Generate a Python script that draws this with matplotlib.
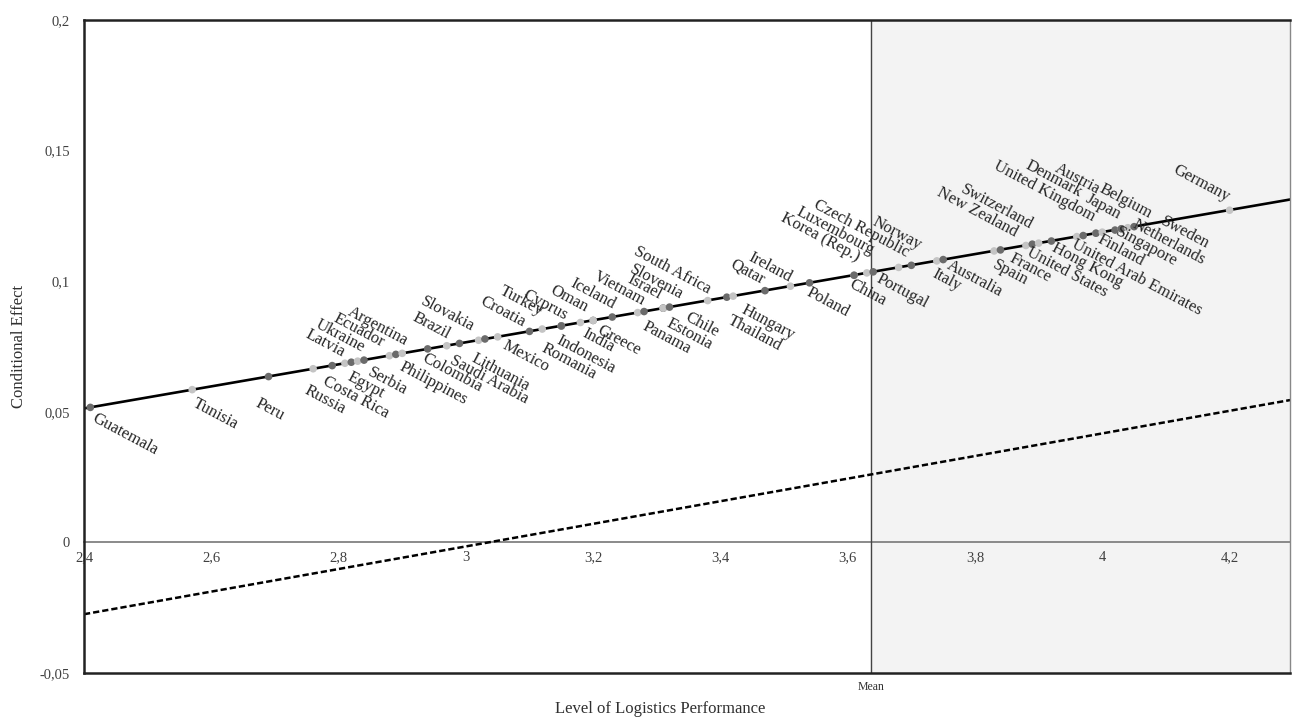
import numpy as np
import matplotlib
matplotlib.use('Agg')
import matplotlib.pyplot as plt

plt.rcParams['font.family'] = ['Liberation Serif', 'DejaVu Serif']

# Countries whose label sits under the line
below_names = ['Guatemala', 'Tunisia', 'Peru', 'Russia', 'Costa Rica', 'Egypt', 'Serbia',
               'Philippines', 'Colombia', 'Saudi Arabia', 'Lithuania', 'Mexico', 'Romania',
               'Indonesia', 'India', 'Greece', 'Panama', 'Estonia', 'Chile', 'Thailand',
               'Hungary', 'Poland', 'China', 'Portugal', 'Italy', 'Australia', 'Spain',
               'France', 'United States', 'Hong Kong', 'United Arab Emirates', 'Finland',
               'Singapore', 'Netherlands', 'Sweden']
below_lpi = [2.41, 2.57, 2.69, 2.76, 2.79, 2.82, 2.84, 2.90, 2.94, 2.97, 3.02, 3.05, 3.12,
             3.15, 3.18, 3.20, 3.28, 3.31, 3.32, 3.41, 3.42, 3.54, 3.61, 3.64, 3.74, 3.75,
             3.83, 3.84, 3.89, 3.92, 3.96, 3.97, 4.00, 4.02, 4.05]
below_eff = [0.0517, 0.0585, 0.0635, 0.0665, 0.0677, 0.0690, 0.0698, 0.0724, 0.0741, 0.0753,
             0.0774, 0.0787, 0.0817, 0.0829, 0.0842, 0.0850, 0.0884, 0.0897, 0.0901, 0.0939,
             0.0943, 0.0994, 0.1023, 0.1036, 0.1078, 0.1083, 0.1116, 0.1120, 0.1142, 0.1154,
             0.1171, 0.1175, 0.1188, 0.1196, 0.1209]

# Countries whose label sits above the line
above_names = ['Latvia', 'Ukraine', 'Ecuador', 'Argentina', 'Brazil', 'Slovakia', 'Croatia',
               'Turkey', 'Cyprus', 'Oman', 'Iceland', 'Vietnam', 'Israel', 'Slovenia',
               'South Africa', 'Qatar', 'Ireland', 'Korea (Rep.)', 'Luxembourg',
               'Czech Republic', 'Norway', 'New Zealand', 'Switzerland', 'United Kingdom',
               'Denmark', 'Japan', 'Austria', 'Belgium', 'Germany']
above_lpi = [2.81, 2.83, 2.88, 2.89, 2.99, 3.03, 3.10, 3.15, 3.15, 3.20, 3.23, 3.27, 3.31,
             3.31, 3.38, 3.47, 3.51, 3.61, 3.63, 3.68, 3.70, 3.88, 3.90, 3.99, 3.99, 4.03,
             4.03, 4.04, 4.20]
above_eff = [0.0686, 0.0694, 0.0715, 0.0720, 0.0762, 0.0779, 0.0808, 0.0829, 0.0829, 0.0850,
             0.0863, 0.0880, 0.0897, 0.0897, 0.0926, 0.0964, 0.0981, 0.1023, 0.1032, 0.1053,
             0.1061, 0.1137, 0.1146, 0.1184, 0.1184, 0.1201, 0.1201, 0.1205, 0.1272]

# Effect line and its lower bound (dashed), read at the two plot edges
line_x = [2.4, 4.295]
effect_y = [0.0513, 0.1313]
lower_y = [-0.0275, 0.0545]

mean_lpi = 3.637
x_ticks = [2.4, 2.6, 2.8, 3.0, 3.2, 3.4, 3.6, 3.8, 4.0, 4.2]
y_ticks = [-0.05, 0, 0.05, 0.1, 0.15, 0.2]

# hand placement of labels (pixels, y downwards)
below_off = {'Guatemala': (7, 3), 'Tunisia': (5, 6), 'Peru': (-8, 19), 'Russia': (-4, 14),
             'Costa Rica': (-5, 8), 'Egypt': (1, 7), 'Serbia': (8, 4), 'Philippines': (2, 6),
             'Colombia': (-1, 2), 'Saudi Arabia': (8, 7), 'Lithuania': (-2, 10), 'Mexico': (9, 1),
             'Romania': (4, 11), 'Indonesia': (0, 6), 'India': (7, 3), 'Greece': (9, 2),
             'Panama': (3, 7), 'Estonia': (8, 7), 'Chile': (20, 2), 'Thailand': (6, 15),
             'Hungary': (13, 6), 'Poland': (2, 2), 'China': (0, 1), 'Portugal': (8, -1),
             'Italy': (0, 5), 'Australia': (8, -2), 'Spain': (3, 6), 'France': (14, 0),
             'United States': (-1, 0), 'Hong Kong': (5, -1), 'United Arab Emirates': (0, 0),
             'Finland': (19, -4), 'Singapore': (18, -8), 'Netherlands': (22, -14),
             'Sweden': (31, -13)}
above_off = {'Latvia': (-5, -3), 'Ukraine': (2, -6), 'Ecuador': (-10, -5), 'Argentina': (7, -5),
             'Brazil': (-14, -1), 'Slovakia': (-15, -4), 'Croatia': (-9, -1), 'Turkey': (-23, -7),
             'Cyprus': (2, -2), 'Oman': (-10, -5), 'Iceland': (-2, -5), 'Vietnam': (3, -4),
             'Israel': (-6, -5), 'Slovenia': (15, -5), 'South Africa': (-2, -3), 'Qatar': (-5, -3),
             'Ireland': (-3, -1), 'Korea (Rep.)': (1, -10), 'Luxembourg': (3, -15),
             'Czech Republic': (6, -7), 'Norway': (5, -12), 'New Zealand': (-13, -5),
             'Switzerland': (-11, -10), 'United Kingdom': (-6, -8), 'Denmark': (-19, -33),
             'Japan': (-5, -6), 'Austria': (-26, -31), 'Belgium': (19, -6), 'Germany': (-5, -5)}

fig = plt.figure(figsize=(12.92, 7.18), dpi=100)
ax = fig.add_axes([0.065, 0.0627, 0.9335, 0.9093])
ax.set_xlim(line_x[0], line_x[1])
ax.set_ylim(-0.05, 0.2)

ax.axvspan(mean_lpi, line_x[1], color='#f3f3f3', zorder=0)
ax.axvline(mean_lpi, color='#444444', lw=1, zorder=1)

ax.plot(line_x, effect_y, color='black', lw=1.9, zorder=2)
ax.plot(line_x, lower_y, color='black', lw=1.8, ls=(0, (2.5, 1.2)), zorder=2)

all_lpi = np.array(below_lpi + above_lpi)
all_eff = np.array(below_eff + above_eff)
order = np.argsort(all_lpi, kind='stable')
cols = ['#6b6b6b' if i % 2 == 0 else '#c4c4c4' for i in range(len(order))]
ax.scatter(all_lpi[order], all_eff[order], s=30, c=cols, zorder=3, linewidths=0)

rot = -28
px = 0.72  # points per pixel at 100 dpi
for n, x, y in zip(below_names, below_lpi, below_eff):
    dx, dy = below_off[n]
    ax.annotate(n, (x, y), xytext=(dx * px, -dy * px), textcoords='offset points', rotation=rot,
                rotation_mode='anchor', ha='left', va='top', fontsize=12, color='#262626')
for n, x, y in zip(above_names, above_lpi, above_eff):
    dx, dy = above_off[n]
    ax.annotate(n, (x, y), xytext=(dx * px, -dy * px), textcoords='offset points', rotation=rot,
                rotation_mode='anchor', ha='right', va='bottom', fontsize=12, color='#262626')

# frame
for s in ['left', 'bottom', 'top']:
    ax.spines[s].set_linewidth(1.8)
    ax.spines[s].set_color('#222222')
ax.spines['right'].set_color('#888888')
ax.spines['right'].set_linewidth(1)

ax.set_yticks(y_ticks)
ax.set_yticklabels([('%g' % v).replace('.', ',') for v in y_ticks], fontsize=10.5, color='#404040')
ax.tick_params(axis='y', length=0, pad=10)

ax.set_xticks([mean_lpi])
ax.set_xticklabels(['Mean'], fontsize=8.5, color='#303030')
ax.tick_params(axis='x', length=0, pad=6)

# x axis crossing at zero
sec = ax.secondary_xaxis(0.2)
sec.set_xticks(x_ticks)
sec.set_xticklabels([('%g' % v).replace('.', ',') for v in x_ticks], fontsize=10.5, color='#404040')
sec.tick_params(length=0, pad=6)
sec.spines['bottom'].set_color('#777777')
sec.spines['bottom'].set_linewidth(1.2)

ax.set_xlabel('Level of Logistics Performance', fontsize=12, color='#303030')
ax.xaxis.set_label_coords(0.478, -0.043)
ax.set_ylabel('Conditional Effect', fontsize=12, color='#303030', labelpad=9)

fig.savefig('out.png', dpi=100)
